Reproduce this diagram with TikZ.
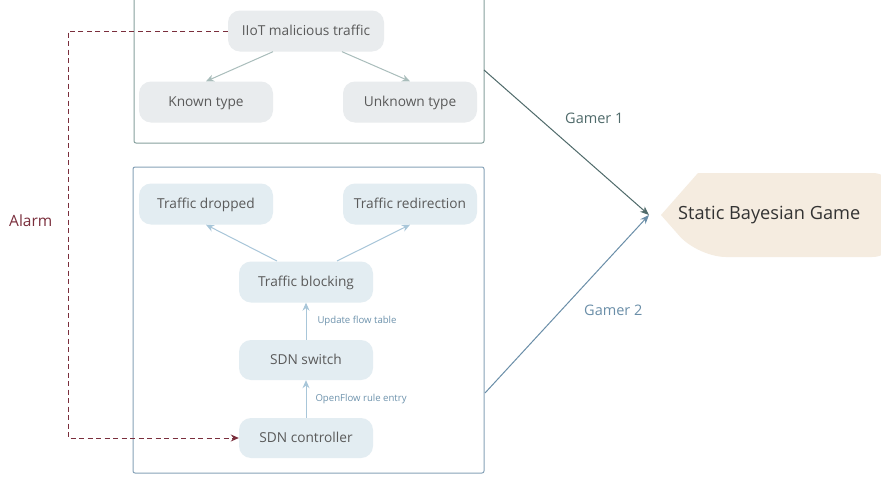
\documentclass[tikz,border=0pt]{standalone}
\usepackage{fontspec}
\setmainfont{Open Sans}
\usetikzlibrary{arrows.meta}
\definecolor{topframe}{HTML}{86A09E}
\definecolor{botframe}{HTML}{86A2B8}
\definecolor{topfill}{HTML}{E9ECEE}
\definecolor{botfill}{HTML}{E3EDF2}
\definecolor{toparrow}{HTML}{A9BDBB}
\definecolor{botarrow}{HTML}{A8C6D9}
\definecolor{nodetext}{HTML}{5A5A5A}
\definecolor{lbltext}{HTML}{6E93AD}
\definecolor{gameone}{HTML}{4F6A6A}
\definecolor{gametwo}{HTML}{6A8EA8}
\definecolor{alarmc}{HTML}{7A2E3C}
\definecolor{sbgfill}{HTML}{F5ECE0}
\tikzset{
  frame/.style={draw, line width=1pt, rounded corners=2pt, inner sep=0pt},
  basenode/.style={rounded corners=12pt, minimum width=134pt, minimum height=41pt, text=nodetext, font=\fontsize{13.7}{15}\selectfont, inner sep=0pt, text height=12.3pt, text depth=2.5pt},
  topnode/.style={basenode, fill=topfill},
  botnode/.style={basenode, fill=botfill},
  toparr/.style={draw=toparrow, line width=1pt, -{Stealth[length=8pt,width=7pt]}},
  botarr/.style={draw=botarrow, line width=1pt, -{Stealth[length=8pt,width=7pt]}},
  edgelbl/.style={text=lbltext, font=\fontsize{9.6}{11}\selectfont, anchor=west, inner sep=0pt},
}
\begin{document}
\begin{tikzpicture}[x=1pt,y=-1pt]
\clip (0,0) rectangle (881,479);
\fill[white] (0,0) rectangle (881,479);
% frames
\node[frame, draw=topframe, minimum width=350pt, minimum height=153pt] (topbox) at (309,66.5) {};
\node[frame, draw=botframe, minimum width=351pt, minimum height=306pt] (botbox) at (308.5,320) {};
% top nodes
\node[topnode, minimum width=156pt] (iiot) at (306,31) {IIoT malicious traffic};
\node[topnode] (known) at (206,102) {Known type};
\node[topnode] (unknown) at (410,102) {Unknown type};
\draw[toparr] (iiot.south) ++(-33,0) coordinate (a1) -- (known.north);
\draw[toparr] (iiot.south) ++(36,0) coordinate (a2) -- (unknown.north);
% bottom nodes
\node[botnode] (dropped) at (206,204) {Traffic dropped};
\node[botnode] (redir) at (410,204) {Traffic redirection};
\node[botnode] (block) at (306,282) {Traffic blocking};
\node[botnode, minimum height=40pt] (switch) at (306,360) {SDN switch};
\node[botnode, minimum height=40pt] (ctrl) at (306,438) {SDN controller};
\coordinate (b1) at (277,261);
\coordinate (b2) at (337,261);
\draw[botarr] (b1) -- (dropped.south);
\draw[botarr] (b2) -- (redir.south);
\draw[botarr] (switch.north) -- node[edgelbl, xshift=11pt] {Update flow table} (block.south);
\draw[botarr] (ctrl.north) -- node[edgelbl, xshift=9pt] {OpenFlow rule entry} (switch.south);
% alarm
\coordinate (c1) at (68,31);
\coordinate (c2) at (68,438);
\draw[alarmc, line width=1pt, dash pattern=on 5pt off 3.5pt, -{Stealth[length=8pt,width=7pt]}] (iiot.west) -- (c1) -- (c2) -- (ctrl.west);
\node[text=alarmc, font=\fontsize{15.5}{17}\selectfont, anchor=west, inner sep=0pt] (alarm) at (9,221) {Alarm};
% static bayesian game
\fill[sbgfill, rounded corners=28pt] (698,173) -- (900,173) -- (900,257) -- (698,257) [sharp corners] -- (661,215) -- cycle;
\node[text=black!80, font=\fontsize{18.2}{21}\selectfont, anchor=west, inner sep=0pt] (sbg) at (678,215) {Static Bayesian Game};
\coordinate (tip) at (649,215);
\coordinate (g1s) at (484,70);
\coordinate (g2s) at (485,393);
\draw[gameone, line width=1pt, -{Stealth[length=9pt,width=7pt]}] (g1s) -- (tip) ;
\draw[gametwo, line width=1pt, -{Stealth[length=9pt,width=7pt]}] (g2s) -- (tip);
\node[text=gameone, font=\fontsize{14.5}{16}\selectfont, anchor=west, inner sep=0pt] (g1) at (565,118) {Gamer 1};
\node[text=gametwo, font=\fontsize{14.5}{16}\selectfont, anchor=west, inner sep=0pt] (g2) at (584,310) {Gamer 2};
\end{tikzpicture}
\end{document}
